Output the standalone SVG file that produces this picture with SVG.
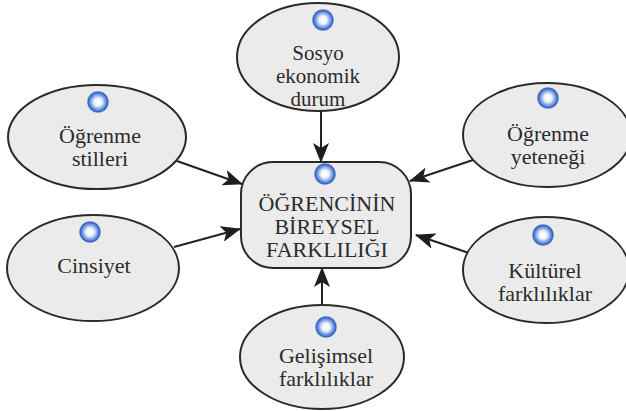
<svg xmlns="http://www.w3.org/2000/svg" width="626" height="411" viewBox="0 0 626 411">
<defs>
<radialGradient id="dot" cx="0.5" cy="0.5" r="0.5">
<stop offset="0" stop-color="#ffffff"/>
<stop offset="0.35" stop-color="#eef3ff"/>
<stop offset="0.7" stop-color="#6f97e0"/>
<stop offset="0.9" stop-color="#2f5fc0"/>
<stop offset="1" stop-color="#5a7fc8" stop-opacity="0.4"/>
</radialGradient>
<marker id="ah" viewBox="0 0 20 16" refX="19" refY="8" markerWidth="20" markerHeight="16" markerUnits="userSpaceOnUse" orient="auto">
<path d="M0,0 L20,8 L0,16 L5,8 Z" fill="#1e1e1e"/>
</marker>
<style>
.sh{fill:#ebebeb;stroke:#2a2a2a;stroke-width:2}
.t{font-family:"Liberation Serif","Times New Roman",serif;font-size:22px;fill:#2b2b2b;text-anchor:middle}
.s{font-size:21px}
.c{stroke:#222;stroke-width:2;fill:none;marker-end:url(#ah)}
</style>
</defs>
<g id="connectors">
<line class="c" x1="321" y1="111" x2="321" y2="162"/>
<line class="c" x1="177" y1="161" x2="242" y2="184"/>
<line class="c" x1="174" y1="247" x2="240" y2="229"/>
<line class="c" x1="473" y1="160" x2="410" y2="181"/>
<line class="c" x1="469" y1="253" x2="416" y2="235"/>
<line class="c" x1="322" y1="305" x2="322" y2="268"/>
</g>
<g id="sosyo">
<ellipse class="sh" cx="318" cy="57" rx="81" ry="54"/>
<circle cx="323" cy="20" r="11" fill="url(#dot)"/>
<text class="t s" x="318" y="60">Sosyo</text>
<text class="t s" x="318" y="83">ekonomik</text>
<text class="t s" x="318" y="106">durum</text>
</g>
<g id="ogrenme-stilleri">
<ellipse class="sh" cx="97" cy="137" rx="89" ry="52"/>
<circle cx="98" cy="102" r="11" fill="url(#dot)"/>
<text class="t" x="100" y="143">Öğrenme</text>
<text class="t" x="100" y="166">stilleri</text>
</g>
<g id="ogrenme-yetenegi">
<ellipse class="sh" cx="547" cy="135" rx="84" ry="52"/>
<circle cx="548" cy="98" r="11" fill="url(#dot)"/>
<text class="t" x="548" y="141">Öğrenme</text>
<text class="t" x="548" y="164">yeteneği</text>
</g>
<g id="cinsiyet">
<ellipse class="sh" cx="93" cy="268" rx="86" ry="53"/>
<circle cx="90" cy="232" r="11" fill="url(#dot)"/>
<text class="t" x="94" y="273">Cinsiyet</text>
</g>
<g id="kulturel">
<ellipse class="sh" cx="546" cy="270" rx="83" ry="53"/>
<circle cx="543" cy="235" r="11" fill="url(#dot)"/>
<text class="t" x="545" y="278">Kültürel</text>
<text class="t" x="545" y="301">farklılıklar</text>
</g>
<g id="gelisimsel">
<ellipse class="sh" cx="322" cy="357" rx="82" ry="52"/>
<circle cx="326" cy="327" r="11" fill="url(#dot)"/>
<text class="t" x="326" y="363">Gelişimsel</text>
<text class="t" x="326" y="386">farklılıklar</text>
</g>
<g id="center">
<rect class="sh" x="241" y="162" width="170" height="106" rx="32" ry="32"/>
<circle cx="325" cy="174" r="11" fill="url(#dot)"/>
<text class="t" x="327" y="211">ÖĞRENCİNİN</text>
<text class="t" x="327" y="234">BİREYSEL</text>
<text class="t" x="327" y="257">FARKLILIĞI</text>
</g>
</svg>
